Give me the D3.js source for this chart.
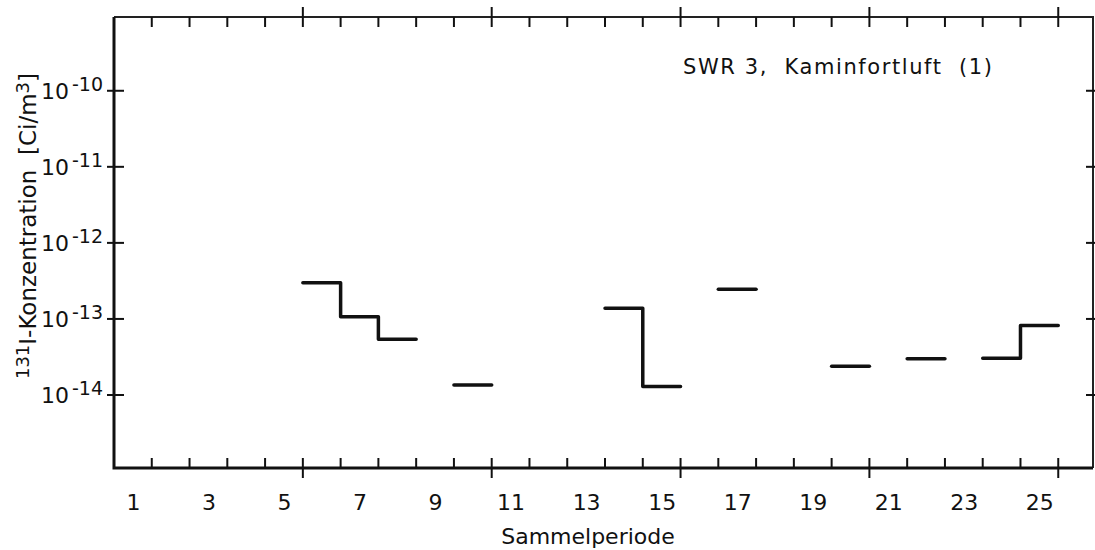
<!DOCTYPE html>
<html>
<head>
<meta charset="utf-8">
<script src="https://cdn.jsdelivr.net/npm/d3@7"></script>
<style>
  body { margin: 0; background: #fff; }
  text { font-family: "DejaVu Sans", sans-serif; fill: #111; }
</style>
</head>
<body>
<svg id="chart" width="1095" height="550"></svg>
<script>
// Sammelperioden mit Messwert und 131I-Konzentration (Ci/m3)
const periods = [6, 7, 8, 10, 14, 15, 17, 20, 22, 24, 25];
const values = [3.0e-13, 1.07e-13, 5.4e-14, 1.35e-14, 1.38e-13, 1.29e-14, 2.45e-13, 2.38e-14, 3.0e-14, 3.03e-14, 8.2e-14];
const periodLabels = [1, 3, 5, 7, 9, 11, 13, 15, 17, 19, 21, 23, 25];
const decades = [-10, -11, -12, -13, -14];
const titleText = "SWR 3,  Kaminfortluft  (1)";

const svg = d3.select('#chart');
const plotLeft = 114, plotRight = 1093, plotTop = 17, plotBottom = 468;

const x = d3.scaleLinear().domain([0.5, 26.42]).range([plotLeft, plotRight]);
const y = d3.scaleLog().domain([Math.pow(10, -14.96), Math.pow(10, -9.03)]).range([plotBottom, plotTop]);

// Rahmen
svg.append('path')
    .attr('d', `M${plotLeft},${plotTop} L${plotRight},${plotTop} L${plotRight},${plotBottom}`)
    .attr('fill', 'none').attr('stroke', '#222').attr('stroke-width', 2);
svg.append('path')
    .attr('d', `M${plotLeft},${plotTop} L${plotLeft},${plotBottom} L${plotRight},${plotBottom}`)
    .attr('fill', 'none').attr('stroke', '#111').attr('stroke-width', 3);

// Teilstriche an den Periodengrenzen (oben und unten)
const bounds = d3.range(1, 26).map(k => k + 0.5);
bounds.forEach(b => {
    const long = (b - 0.5) % 5 === 0;
    const px = x(b);
    svg.append('line')
        .attr('x1', px).attr('x2', px)
        .attr('y1', long ? plotTop - 10 : plotTop).attr('y2', plotTop + 10)
        .attr('stroke', '#111').attr('stroke-width', 2);
    svg.append('line')
        .attr('x1', px).attr('x2', px)
        .attr('y1', plotBottom - 10).attr('y2', long ? plotBottom + 10 : plotBottom)
        .attr('stroke', '#111').attr('stroke-width', 2);
});

// x-Achse Beschriftung
const xAxis = d3.axisBottom(x).tickValues(periodLabels).tickSize(0).tickPadding(0);
const gx = svg.append('g').attr('transform', `translate(0,${plotBottom + 42})`).call(xAxis);
gx.select('.domain').remove();
gx.selectAll('text')
    .attr('dy', 0)
    .style('font-family', '"DejaVu Sans", sans-serif')
    .style('font-size', '22px')
    .attr('fill', '#111');

svg.append('text')
    .attr('x', 588).attr('y', 544)
    .attr('text-anchor', 'middle')
    .style('font-size', '22px')
    .text('Sammelperiode');

// y-Achse: Dekaden
decades.forEach(e => {
    const py = y(Math.pow(10, e));
    svg.append('line')
        .attr('x1', plotLeft - 7).attr('x2', plotLeft + 10)
        .attr('y1', py).attr('y2', py)
        .attr('stroke', '#111').attr('stroke-width', 2);
    svg.append('line')
        .attr('x1', plotRight - 7).attr('x2', plotRight + 2)
        .attr('y1', py).attr('y2', py)
        .attr('stroke', '#111').attr('stroke-width', 2);
    const t = svg.append('text')
        .attr('x', 103).attr('y', py + 8)
        .attr('text-anchor', 'end');
    t.append('tspan').style('font-size', '22px').text('10');
    t.append('tspan').attr('dy', -8).attr('dx', 3).style('font-size', '19px').text('-' + Math.abs(e));
});

// y-Achsentitel
const yl = svg.append('text')
    .attr('transform', 'translate(36,226) rotate(-90)')
    .attr('text-anchor', 'middle')
    .attr('xml:space', 'preserve')
    .style('font-size', '23px');
yl.append('tspan').attr('dy', -7).style('font-size', '18px').text('131');
yl.append('tspan').attr('dy', 7).text('I-Konzentration  [Ci/m');
yl.append('tspan').attr('dy', -7).style('font-size', '18px').text('3');
yl.append('tspan').attr('dy', 7).text(']');

// Titel
svg.append('text')
    .attr('x', 683).attr('y', 74)
    .attr('xml:space', 'preserve')
    .style('font-size', '21px')
    .attr('textLength', 309)
    .text(titleText);

// Messwerte als Treppenlinie, zusammenhängende Perioden verbunden
const runs = [];
periods.forEach((p, i) => {
    const last = runs[runs.length - 1];
    if (last && last[last.length - 1].p === p - 1) last.push({ p: p, v: values[i] });
    else runs.push([{ p: p, v: values[i] }]);
});

const line = d3.line().x(d => x(d[0])).y(d => y(d[1]));
runs.forEach(run => {
    const pts = [];
    run.forEach(d => {
        pts.push([d.p - 0.5, d.v]);
        pts.push([d.p + 0.5, d.v]);
    });
    svg.append('path')
        .attr('d', line(pts))
        .attr('fill', 'none')
        .attr('stroke', '#111')
        .attr('stroke-width', 3.5)
        .attr('stroke-linejoin', 'round')
        .attr('stroke-linecap', 'round');
});
</script>
</body>
</html>
